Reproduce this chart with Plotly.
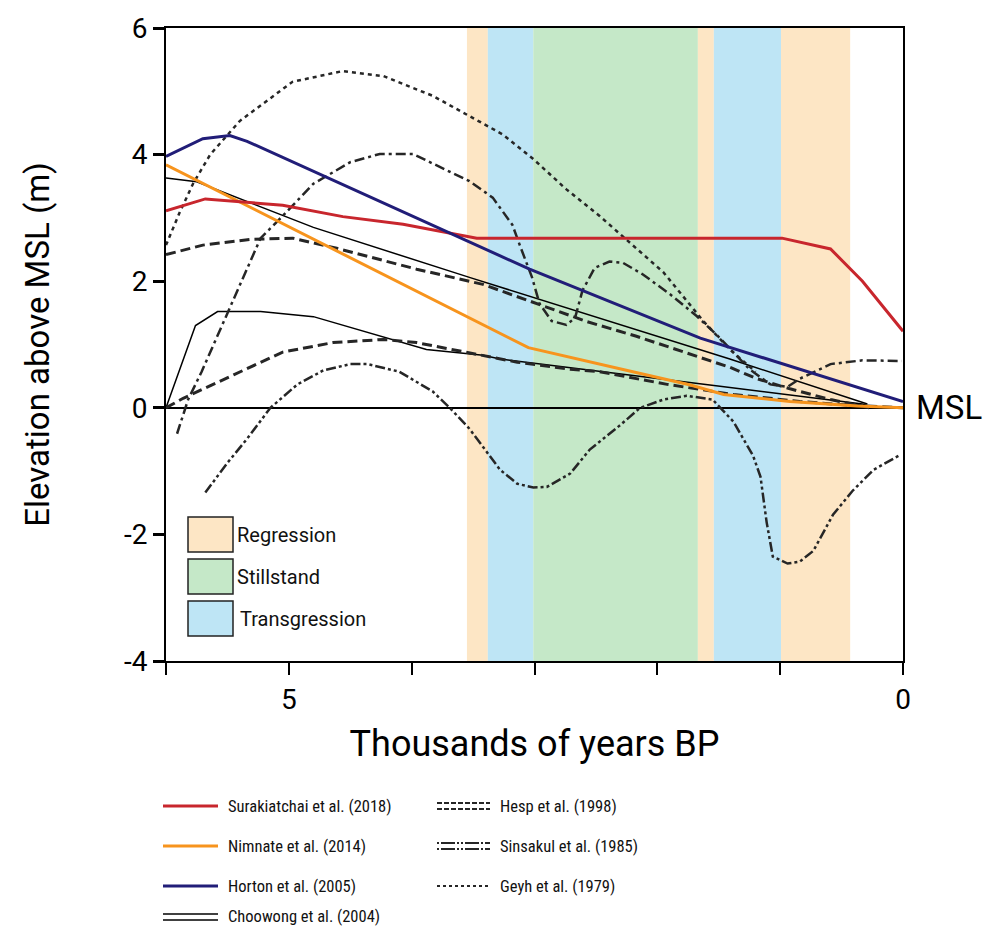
import plotly.graph_objects as go

# ---------------- data (thousands of years BP, metres above MSL) ----------------
sura_x = [6.0, 5.68, 5.05, 4.56, 4.07, 3.47, 0.985, 0.59, 0.33, 0.0]
sura_y = [3.11, 3.30, 3.20, 3.02, 2.90, 2.68, 2.68, 2.51, 2.00, 1.21]

nim_x = [6.0, 3.05, 2.20, 1.73, 1.46, 0.92, 0.37, 0.0]
nim_y = [3.84, 0.95, 0.57, 0.36, 0.21, 0.10, 0.03, 0.0]

hort_x = [6.0, 5.70, 5.48, 5.34, 3.04, 1.65, 0.0]
hort_y = [3.97, 4.25, 4.30, 4.21, 2.19, 1.10, 0.10]

choo_up_x = [6.0, 5.86, 5.75, 4.80, 3.53, 1.41, 0.29]
choo_up_y = [3.63, 3.60, 3.57, 2.85, 2.06, 0.77, 0.06]
choo_lo_x = [6.0, 5.76, 5.58, 5.23, 4.80, 3.88, 3.42, 3.28, 1.49, 0.33, 0.23]
choo_lo_y = [0.0, 1.30, 1.52, 1.52, 1.44, 0.92, 0.83, 0.77, 0.34, 0.06, 0.0]

hesp_up_x = [6.0, 5.70, 5.32, 4.97, 4.61, 3.96, 3.42, 2.93, 2.57, 2.17, 1.76, 1.41, 1.19, 0.92, 0.59, 0.27]
hesp_up_y = [2.42, 2.57, 2.66, 2.68, 2.52, 2.19, 1.95, 1.61, 1.36, 1.13, 0.87, 0.64, 0.46, 0.30, 0.13, 0.0]
hesp_lo_x = [6.0, 5.86, 5.45, 5.05, 4.64, 4.23, 3.96, 3.55, 3.14, 2.71, 2.47, 1.92, 1.38, 0.84, 0.43, 0.0]
hesp_lo_y = [0.0, 0.15, 0.52, 0.88, 1.03, 1.08, 1.03, 0.88, 0.72, 0.61, 0.57, 0.37, 0.21, 0.10, 0.04, 0.0]

sins_up_x = [5.91, 5.82, 5.71, 5.50, 5.34, 5.23, 5.05, 4.80, 4.50, 4.26, 3.99, 3.77, 3.53, 3.34, 3.18,
             3.12, 3.02, 2.96, 2.86, 2.74, 2.67, 2.61, 2.51, 2.39, 2.28, 2.12, 1.90, 1.68, 1.51, 1.25,
             1.08, 0.94, 0.84, 0.59, 0.33, 0.01]
sins_up_y = [-0.41, 0.13, 0.57, 1.49, 2.21, 2.68, 3.03, 3.54, 3.88, 4.01, 4.01, 3.81, 3.58, 3.32, 2.89,
             2.57, 2.06, 1.65, 1.37, 1.31, 1.42, 1.85, 2.21, 2.31, 2.29, 2.11, 1.80, 1.45, 1.14, 0.61,
             0.37, 0.33, 0.46, 0.69, 0.75, 0.74]
sins_lo_x = [5.68, 5.50, 5.34, 5.15, 4.93, 4.72, 4.50, 4.36, 4.10, 3.83, 3.69, 3.53, 3.28, 3.14, 3.01,
             2.90, 2.71, 2.55, 2.30, 2.14, 1.95, 1.76, 1.55, 1.38, 1.22, 1.16, 1.11, 1.06, 0.94, 0.84,
             0.73, 0.57, 0.41, 0.24, 0.02]
sins_lo_y = [-1.34, -0.87, -0.49, 0.0, 0.37, 0.59, 0.69, 0.69, 0.57, 0.26, 0.0, -0.33, -0.98, -1.20, -1.26,
             -1.25, -1.04, -0.66, -0.27, 0.0, 0.13, 0.19, 0.13, -0.22, -0.76, -1.09, -1.81, -2.35, -2.46, -2.43,
             -2.26, -1.69, -1.31, -0.98, -0.74]

geyh_x = [6.0, 5.89, 5.78, 5.64, 5.40, 5.23, 4.97, 4.56, 4.23, 3.83, 3.55, 3.26, 3.01, 2.74, 2.47,
          2.20, 1.95, 1.63, 1.41, 1.20]
geyh_y = [2.57, 3.08, 3.54, 4.00, 4.53, 4.78, 5.15, 5.32, 5.24, 4.93, 4.63, 4.32, 3.93, 3.45, 3.03,
          2.57, 2.14, 1.38, 0.92, 0.57]

# phases (start ka, end ka, kind)
band_start = [3.55, 3.38, 3.01, 1.67, 1.54, 0.993]
band_end = [3.38, 3.01, 1.67, 1.54, 0.993, 0.43]
band_kind = ["Regression", "Transgression", "Stillstand", "Regression", "Transgression", "Regression"]

x_tickvals = [6, 5, 4, 3, 2, 1, 0]
x_ticktext = ["", "5", "", "", "", "", "0"]
y_tickvals = [-4, -2, 0, 2, 4, 6]
y_ticktext = ["-4", "-2", "0", "2", "4", "6"]

legend_left = ["Surakiatchai et al. (2018)", "Nimnate et al. (2014)", "Horton et al. (2005)", "Choowong et al. (2004)"]
legend_right = ["Hesp et al. (1998)", "Sinsakul et al. (1985)", "Geyh et al. (1979)"]
phase_labels = ["Regression", "Stillstand", "Transgression"]

# ---------------- styling ----------------
W, H = 986, 928
ML, MR, MT, MB = 166, 83, 28, 267
PW, PH = W - ML - MR, H - MT - MB

def px_x(px):
    return (px - ML) / PW

def px_y(py):
    return (H - MB - py) / PH

FONT = "Roboto, sans-serif"
NARROW = "Liberation Sans Narrow, Roboto Condensed, Roboto, sans-serif"
RED, ORANGE, NAVY, DARK = "#C8262D", "#F7941D", "#211D78", "#262626"
BAND_COL = {"Regression": "#FDE6C5", "Transgression": "#BEE5F5", "Stillstand": "#C5E8C8"}

fig = go.Figure()

def add(x, y, color, width, dash="solid"):
    fig.add_trace(go.Scatter(x=x, y=y, mode="lines", showlegend=False, hoverinfo="skip",
                             line=dict(color=color, width=width, dash=dash)))

add(choo_up_x, choo_up_y, "#000000", 1.5)
add(choo_lo_x, choo_lo_y, "#000000", 1.5)
add(hesp_up_x, hesp_up_y, DARK, 3, "10px,5px")
add(hesp_lo_x, hesp_lo_y, DARK, 3, "10px,5px")
add(sins_up_x, sins_up_y, DARK, 2.5, "10px,4px,3px,4px")
add(sins_lo_x, sins_lo_y, DARK, 2.5, "10px,3px,3px,3px,3px,3px")
add(geyh_x, geyh_y, DARK, 2.5, "4px,4px")
add(nim_x, nim_y, ORANGE, 3)
add(sura_x, sura_y, RED, 3)
add(hort_x, hort_y, NAVY, 3)

shapes = []
for s, e, k in zip(band_start, band_end, band_kind):
    shapes.append(dict(type="rect", xref="x", yref="paper", x0=s, x1=e, y0=0, y1=1,
                       fillcolor=BAND_COL[k], line=dict(width=0), layer="below"))

annotations = []
# inner phase legend
box_tops = [517, 559, 601]
for lab, top in zip(phase_labels, box_tops):
    shapes.append(dict(type="rect", xref="paper", yref="paper", x0=px_x(188), x1=px_x(233),
                       y0=px_y(top + 35), y1=px_y(top), fillcolor=BAND_COL[lab],
                       line=dict(color="#222", width=1.5)))
    annotations.append(dict(xref="paper", yref="paper", x=px_x(235 if lab != "Transgression" else 238),
                            y=px_y(top + 18), text=lab, showarrow=False, xanchor="left",
                            yanchor="middle", font=dict(family=FONT, size=20, color="#111")))

# bottom legend
rows = [806, 846, 886, 917]
lx0, lx1, ltx = 163, 218, 226
rx0, rx1, rtx = 437, 490, 498
left_styles = [(RED, 3, "solid"), (ORANGE, 3, "solid"), (NAVY, 3, "solid")]
for (c, w, d), ry in zip(left_styles, rows[:3]):
    shapes.append(dict(type="line", xref="paper", yref="paper", x0=px_x(lx0), x1=px_x(lx1),
                       y0=px_y(ry), y1=px_y(ry), line=dict(color=c, width=w, dash=d)))
for off in (-3, 3):
    shapes.append(dict(type="line", xref="paper", yref="paper", x0=px_x(lx0), x1=px_x(lx1),
                       y0=px_y(rows[3] + off), y1=px_y(rows[3] + off), line=dict(color="#000", width=1.5)))
for off in (-3, 3):
    shapes.append(dict(type="line", xref="paper", yref="paper", x0=px_x(rx0), x1=px_x(rx1),
                       y0=px_y(rows[0] + off), y1=px_y(rows[0] + off),
                       line=dict(color=DARK, width=2, dash="5px,2px")))
    shapes.append(dict(type="line", xref="paper", yref="paper", x0=px_x(rx0), x1=px_x(rx1),
                       y0=px_y(rows[1] + off), y1=px_y(rows[1] + off),
                       line=dict(color=DARK, width=2, dash="2px,2px,14px,2px,2px,2px,2px,2px,14px,2px")))
shapes.append(dict(type="line", xref="paper", yref="paper", x0=px_x(rx0), x1=px_x(rx1),
                   y0=px_y(rows[2]), y1=px_y(rows[2]), line=dict(color=DARK, width=2, dash="3px,3px")))

for t, ry in zip(legend_left, rows):
    annotations.append(dict(xref="paper", yref="paper", x=px_x(ltx), y=px_y(ry), text=t, showarrow=False,
                            xanchor="left", yanchor="middle", font=dict(family=NARROW, size=16.5, color="#111")))
for t, ry in zip(legend_right, rows):
    annotations.append(dict(xref="paper", yref="paper", x=px_x(rtx), y=px_y(ry), text=t, showarrow=False,
                            xanchor="left", yanchor="middle", font=dict(family=NARROW, size=16.5, color="#111")))

# MSL label
annotations.append(dict(xref="paper", yref="y", x=px_x(914), y=0, text="MSL", showarrow=False,
                        xanchor="left", yanchor="middle", font=dict(family=FONT, size=33, color="#000")))

fig.update_layout(
    width=W, height=H, margin=dict(l=ML, r=MR, t=MT, b=MB),
    paper_bgcolor="white", plot_bgcolor="white", showlegend=False,
    shapes=shapes, annotations=annotations,
    font=dict(family=FONT, color="#000"),
    xaxis=dict(range=[6, 0], tickvals=x_tickvals, ticktext=x_ticktext, ticks="outside", ticklen=12,
               tickwidth=2, tickcolor="#000", showline=True, linewidth=2, linecolor="#000", mirror=True,
               showgrid=False, zeroline=False, tickfont=dict(size=28, family=FONT),
               title=dict(text="Thousands of years BP", font=dict(size=36, family=FONT), standoff=16)),
    yaxis=dict(range=[-4, 6], tickvals=y_tickvals, ticktext=y_ticktext, ticks="outside", ticklen=11,
               tickwidth=3, tickcolor="#000", showline=True, linewidth=2, linecolor="#000", mirror=True,
               showgrid=False, zeroline=True, zerolinecolor="#000", zerolinewidth=1.5,
               tickfont=dict(size=28, family=FONT),
               title=dict(text="Elevation above MSL (m)", font=dict(size=33, family=FONT), standoff=64)),
)

fig.write_html("out.html")
